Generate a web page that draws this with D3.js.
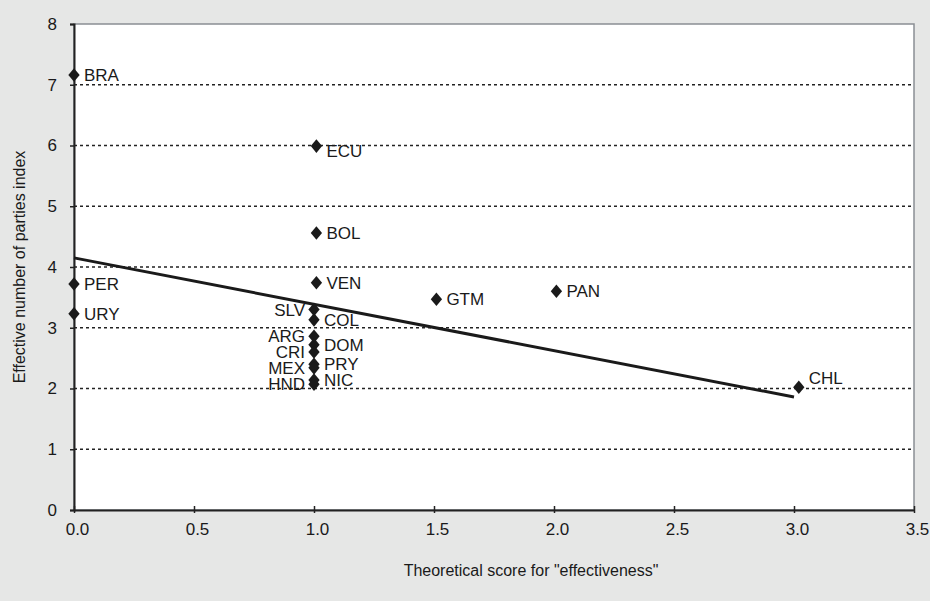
<!DOCTYPE html>
<html>
<head>
<meta charset="utf-8">
<script src="https://cdn.jsdelivr.net/npm/d3@7"></script>
<style>
  body { margin: 0; background: #e6e7e6; }
  text { font-family: "Liberation Sans", Arial, sans-serif; fill: #1a1a1a; }
</style>
</head>
<body>
<div id="chart"></div>
<script>
// country codes, scores and party index
var countries = ["BRA", "PER", "URY", "ECU", "BOL", "VEN", "SLV", "COL", "ARG", "DOM",
                 "CRI", "PRY", "MEX", "NIC", "HND", "GTM", "PAN", "CHL"];
var effectiveness = [0, 0, 0, 1.01, 1.01, 1.01, 1.0, 1.0, 1.0, 1.0,
                     1.0, 1.0, 1.0, 1.0, 1.0, 1.51, 2.01, 3.02];
var partiesIndex = [7.16, 3.72, 3.23, 5.99, 4.56, 3.74, 3.30, 3.13, 2.86, 2.72,
                    2.60, 2.40, 2.34, 2.14, 2.07, 3.47, 3.60, 2.02];
// which side the label sits on
var labelSide = ["r", "r", "r", "r", "r", "r", "l", "r", "l", "r",
                 "l", "r", "l", "r", "l", "r", "r", "r"];

var xTicks = [0, 0.5, 1, 1.5, 2, 2.5, 3, 3.5];
var yTicks = [0, 1, 2, 3, 4, 5, 6, 7, 8];
var trendX = [0, 3.0];
var trendY = [4.15, 1.86];

var width = 930, height = 601;
var margin = {left: 74, right: 16, top: 24, bottom: 91};

var svg = d3.select("#chart").append("svg")
    .attr("width", width)
    .attr("height", height);

var x = d3.scaleLinear().domain([0, 3.5]).range([margin.left, width - margin.right]);
var y = d3.scaleLinear().domain([0, 8]).range([height - margin.bottom, margin.top]);

// plot area
svg.append("rect")
    .attr("x", x(0)).attr("y", y(8))
    .attr("width", x(3.5) - x(0)).attr("height", y(0) - y(8))
    .attr("fill", "#fff")
    .attr("stroke", "#8a8f94")
    .attr("stroke-width", 1.5);

// dotted gridlines
svg.selectAll("line.grid")
    .data(yTicks.filter(function(d) { return d > 0 && d < 8; }))
    .enter().append("line")
    .attr("class", "grid")
    .attr("x1", x(0)).attr("x2", x(3.5))
    .attr("y1", function(d) { return y(d); })
    .attr("y2", function(d) { return y(d); })
    .attr("stroke", "#222")
    .attr("stroke-width", 1.4)
    .attr("stroke-dasharray", "3,3");

// axes
var yAxis = svg.append("g")
    .attr("transform", "translate(" + x(0) + ",0)")
    .call(d3.axisLeft(y).tickValues(yTicks).tickSize(4).tickPadding(13)
        .tickFormat(d3.format("d")));
yAxis.select(".domain").attr("stroke", "#222").attr("stroke-width", 2);
yAxis.selectAll(".tick line").attr("stroke", "#222").attr("stroke-width", 1.5);
yAxis.selectAll("text").style("font-size", "17px").attr("fill", "#1a1a1a");

var xAxis = svg.append("g")
    .attr("transform", "translate(0," + y(0) + ")")
    .call(d3.axisBottom(x).tickValues(xTicks).tickSize(0).tickPadding(13)
        .tickFormat(d3.format(".1f")));
xAxis.select(".domain").attr("stroke", "#222").attr("stroke-width", 2);
xAxis.selectAll(".tick text").attr("dx", 3).style("font-size", "17px").attr("fill", "#1a1a1a");
xAxis.selectAll(".tick").append("line")
    .attr("y1", -4).attr("y2", 3)
    .attr("stroke", "#222").attr("stroke-width", 1.5);

// trend line
svg.append("line")
    .attr("x1", x(trendX[0])).attr("y1", y(trendY[0]))
    .attr("x2", x(trendX[1])).attr("y2", y(trendY[1]))
    .attr("stroke", "#1a1a1a")
    .attr("stroke-width", 3);

// points
var points = countries.map(function(c, i) {
    return {name: c, ex: effectiveness[i], pi: partiesIndex[i], side: labelSide[i]};
});

svg.selectAll("path.pt")
    .data(points)
    .enter().append("path")
    .attr("class", "pt")
    .attr("d", d3.symbol().type(d3.symbolSquare).size(64))
    .attr("transform", function(d) {
        return "translate(" + x(d.ex) + "," + y(d.pi) + ") scale(1.0,1.2) rotate(45)";
    })
    .attr("fill", "#1a1a1a");

// a couple of labels sit a bit off their marker, as in the original
function nudge(d) {
    if (d.name == "CHL") return -9;
    if (d.name == "ECU") return 5;
    return 0;
}

svg.selectAll("text.lbl")
    .data(points)
    .enter().append("text")
    .attr("class", "lbl")
    .attr("x", function(d) { return x(d.ex) + (d.side == "r" ? 10 : -9); })
    .attr("y", function(d) { return y(d.pi) + nudge(d); })
    .attr("dy", ".36em")
    .attr("text-anchor", function(d) { return d.side == "r" ? "start" : "end"; })
    .style("font-size", "17px")
    .text(function(d) { return d.name; });

// axis titles
svg.append("text")
    .attr("transform", "translate(25," + ((y(0) + y(8)) / 2) + ") rotate(-90)")
    .attr("text-anchor", "middle")
    .style("font-size", "16px")
    .text("Effective number of parties index");

svg.append("text")
    .attr("x", 531).attr("y", 576)
    .attr("text-anchor", "middle")
    .style("font-size", "16px")
    .text("Theoretical score for \"effectiveness\"");
</script>
</body>
</html>
